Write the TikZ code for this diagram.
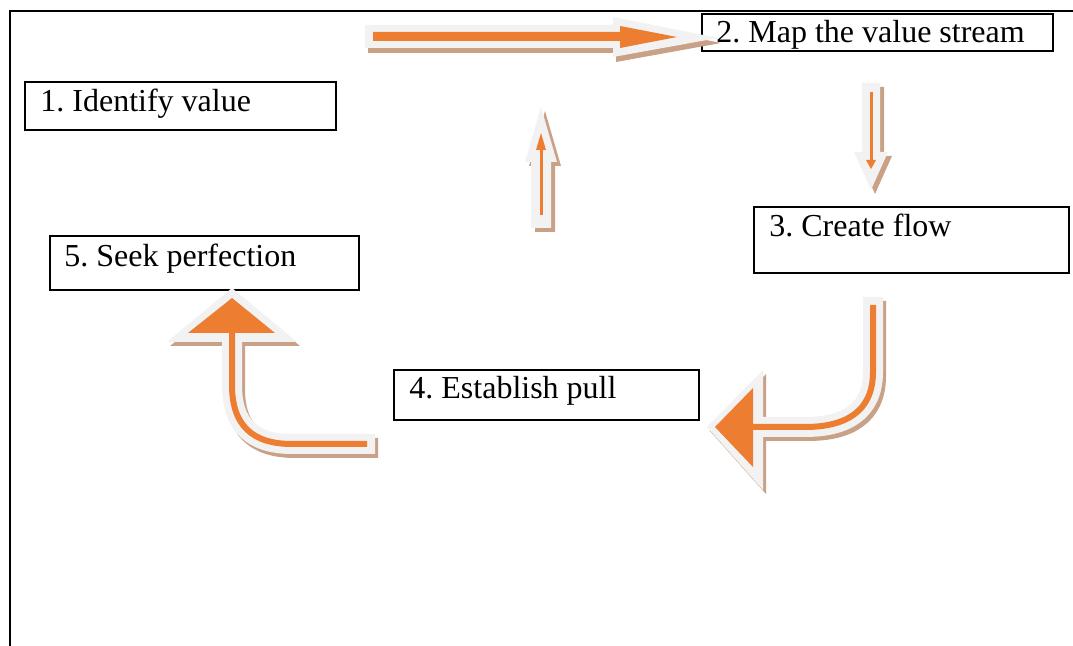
\documentclass[tikz,border=0pt]{standalone}
\usepackage{fontspec}
\setmainfont{Liberation Serif}
\usetikzlibrary{fit}
\definecolor{arrorange}{HTML}{ED7D31}
\definecolor{arrgray}{HTML}{F2F2F2}
\definecolor{arrshadow}{HTML}{C8A186}
\frenchspacing
\begin{document}
\begin{tikzpicture}[x=0.5pt,y=-0.5pt,
  box/.style={draw=black,line width=1pt,inner sep=0pt},
  lbl/.style={inner sep=0pt,anchor=base west,font=\fontsize{16pt}{19pt}\selectfont},
  shadowfill/.style={fill=arrshadow,draw=none},
  grayfill/.style={fill=arrgray,draw=none},
  orangefill/.style={fill=arrorange,draw=none},
  shadowline/.style={draw=arrshadow,line width=10pt},
  grayline/.style={draw=arrgray,line width=10pt},
  orangeline/.style={draw=arrorange,line width=3pt},
  thinorange/.style={draw=arrorange,line width=1.5pt}]
\useasboundingbox (0,0) rectangle (1073,646);
% frame
\coordinate (fa) at (10,646);
\coordinate (fb) at (10,11);
\coordinate (fc) at (1073,11);
\draw[line width=1pt] (fa) -- (fb) -- (fc);
% boxes
\node[box,fit={(25,82) (336,130)}] (b1) {};
\node[box,fit={(702,14) (1053,51)}] (b2) {};
\node[box,fit={(754,207) (1069,273)}] (b3) {};
\node[box,fit={(394,370) (699,420)}] (b4) {};
\node[box,fit={(50,236) (359,290)}] (b5) {};
% labels
\node[lbl] (t1) at (40,112) {1. Identify value};
\node[lbl] (t2) at (716,43) {2. Map the value stream};
\node[lbl] (t3) at (769,237) {3. Create flow};
\node[lbl] (t4) at (409,399) {4. Establish pull};
\node[lbl] (t5) at (64,267) {5. Seek perfection};
% arrow 1 (right)
\begin{scope}[shift={(3,5)}]
\fill[shadowfill] (365,25) -- (613,25) -- (613,17) -- (718,38) -- (613,57) -- (613,48) -- (365,48) -- cycle;
\end{scope}
\fill[grayfill] (365,25) -- (613,25) -- (613,17) -- (718,38) -- (613,57) -- (613,48) -- (365,48) -- cycle;
\fill[orangefill] (373,32) -- (620,32) -- (620,26) -- (677,37) -- (620,48) -- (620,41) -- (373,41) -- cycle;
% arrow 2 (up)
\begin{scope}[shift={(4,4)}]
\fill[shadowfill] (531,228) -- (531,162) -- (525,162) -- (541,107) -- (557,162) -- (551,162) -- (551,228) -- cycle;
\end{scope}
\fill[grayfill] (531,228) -- (531,162) -- (525,162) -- (541,107) -- (557,162) -- (551,162) -- (551,228) -- cycle;
\draw[thinorange] (541,215) -- (541,148);
\fill[orangefill] (536,150) -- (541,133) -- (546,150) -- cycle;
% arrow 3 (down)
\begin{scope}[shift={(4,4)}]
\fill[shadowfill] (862,83) -- (880,83) -- (880,152) -- (888,152) -- (871,190) -- (854,152) -- (862,152) -- cycle;
\end{scope}
\fill[grayfill] (862,83) -- (880,83) -- (880,152) -- (888,152) -- (871,190) -- (854,152) -- (862,152) -- cycle;
\draw[thinorange] (871,92) -- (871,162);
\fill[orangefill] (866,160) -- (876,160) -- (871,169) -- cycle;
% arrow 4 (curved down-left)
\begin{scope}[shift={(3,4)}]
\draw[shadowline] (873,297) -- (873,372) .. controls (873,412) and (845,427) .. (805,427) -- (760,427);
\fill[shadowfill] (763,370) -- (707,427) -- (763,490) -- cycle;
\end{scope}
\draw[grayline] (873,297) -- (873,372) .. controls (873,412) and (845,427) .. (805,427) -- (760,427);
\fill[grayfill] (763,370) -- (707,427) -- (763,490) -- cycle;
\draw[orangeline] (873,305) -- (873,372) .. controls (873,412) and (845,427) .. (805,427) -- (750,427);
\fill[orangefill] (753,388) -- (715,427) -- (753,467) -- cycle;
% arrow 5 (curved left-up)
\begin{scope}[shift={(3,4)}]
\draw[shadowline] (375,444) -- (292,444) .. controls (252,444) and (232,425) .. (232,385) -- (232,340);
\fill[shadowfill] (167,342) -- (232,288) -- (297,342) -- cycle;
\end{scope}
\draw[grayline] (375,444) -- (292,444) .. controls (252,444) and (232,425) .. (232,385) -- (232,340);
\fill[grayfill] (167,342) -- (232,288) -- (297,342) -- cycle;
\draw[orangeline] (367,444) -- (292,444) .. controls (252,444) and (232,425) .. (232,385) -- (232,331);
\fill[orangefill] (188,333) -- (232,298) -- (275,333) -- cycle;
\end{tikzpicture}
\end{document}
